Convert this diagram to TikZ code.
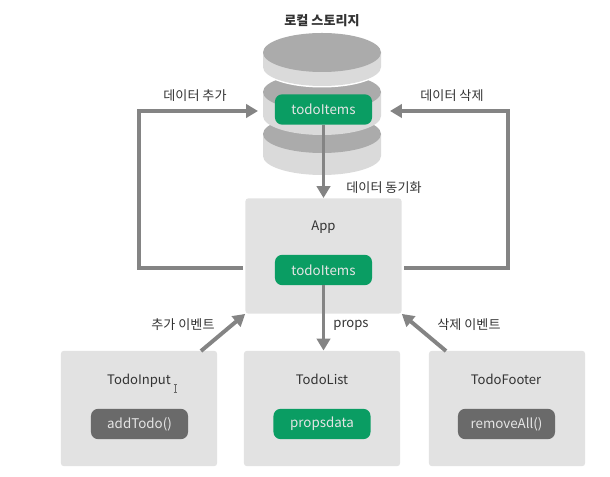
\documentclass[tikz,border=0pt]{standalone}
\usepackage{fontspec}
\setmainfont{Noto Sans CJK KR}
\usepackage{tikz}
\usetikzlibrary{arrows.meta}
\definecolor{boxgray}{HTML}{E2E2E2}
\definecolor{disklight}{HTML}{DADADA}
\definecolor{diskdark}{HTML}{ABABAB}
\definecolor{linegray}{HTML}{848484}
\definecolor{todogreen}{HTML}{0A9D63}
\definecolor{funcgray}{HTML}{6A6A6A}
\tikzset{
  panel/.style={fill=boxgray,rounded corners=2pt,minimum width=111pt,minimum height=82pt,inner sep=0pt},
  pill/.style={rounded corners=5pt,minimum width=69pt,minimum height=21.5pt,inner sep=0pt,text=white!90!black,font=\fontsize{9.5}{11}\selectfont},
  greenpill/.style={pill,fill=todogreen},
  graypill/.style={pill,fill=funcgray},
  txt/.style={text=black!80,font=\fontsize{9.3}{11}\selectfont,inner sep=0pt,yshift=-1.2pt},
  flow/.style={draw=linegray,line width=2.8pt,-{Triangle[length=8.5pt,width=9.5pt]}}
}
\begin{document}
\begin{tikzpicture}[x=0.025cm,y=-0.025cm]
  \useasboundingbox (0,0) rectangle (610,477);
  % disk
  \fill[disklight] (263,134) -- (263,156) arc[start angle=180,end angle=0,x radius=59,y radius=19] -- (381,134) -- cycle;
  \fill[diskdark] (322,134) ellipse[x radius=59,y radius=19];
  \fill[disklight] (263,92) -- (263,116) arc[start angle=180,end angle=0,x radius=59,y radius=19] -- (381,92) -- cycle;
  \fill[diskdark] (322,92) ellipse[x radius=59,y radius=19];
  \fill[white] (263,52) -- (263,68.5) arc[start angle=180,end angle=0,x radius=59,y radius=19] -- (381,52) -- cycle;
  \fill[disklight] (263,52) -- (263,67) arc[start angle=180,end angle=0,x radius=59,y radius=19] -- (381,52) -- cycle;
  \fill[diskdark] (322,52.5) ellipse[x radius=59,y radius=19.5];

  \draw (323.5,256) node[panel] (app) {};
  \draw (139,408.5) node[panel] (todoinput) {};
  \draw (322,408.5) node[panel] (todolist) {};
  \draw (507,408.5) node[panel] (todofooter) {};

  \draw (323.5,109.5) node[greenpill] (storeitems) {todoItems};
  \draw (323.5,270) node[greenpill] (appitems) {todoItems};
  \draw (139.5,424) node[graypill] (addtodo) {addTodo()};
  \draw (322,424) node[greenpill] (propsdata) {propsdata};
  \draw (506.5,424) node[graypill] (removeall) {removeAll()};

  \draw (323.5,226) node[txt] {App};
  \draw (139,379) node[txt] {TodoInput};
  \draw (322,378) node[txt] {TodoList};
  \draw (506,378) node[txt] {TodoFooter};

  % text cursor
  \draw[funcgray,line width=0.5pt] (175,384) -- (175,392) (173.5,384) -- (176.5,384) (173.5,392) -- (176.5,392);

  \coordinate (leftin) at (258,111);
  \coordinate (rightin) at (390,111);
  \path[flow] (243,268) -- (139,268) -- (139,111) -- (leftin);
  \path[flow] (404,268) -- (508,268) -- (508,111) -- (rightin);
  \path[flow] (storeitems.south) -- (storeitems.south |- app.north);
  \path[flow] (appitems.south) -- (appitems.south |- todolist.north);
  \path[flow] (201,351) -- (app.south west);
  \path[flow] (446,351) -- (app.south east);

  \draw (322,19) node[txt,font=\fontsize{9.3}{11}\selectfont\bfseries] (title) {로컬 스토리지};
  \draw (195,94) node[txt] (addlabel) {데이터 추가};
  \draw (452,94) node[txt] (dellabel) {데이터 삭제};
  \draw (384,186) node[txt] (synclabel) {데이터 동기화};
  \draw (183,323) node[txt] (addevent) {추가 이벤트};
  \draw (351,324) node[txt] (propslabel) {props};
  \draw (469,323) node[txt] (delevent) {삭제 이벤트};
\end{tikzpicture}
\end{document}
